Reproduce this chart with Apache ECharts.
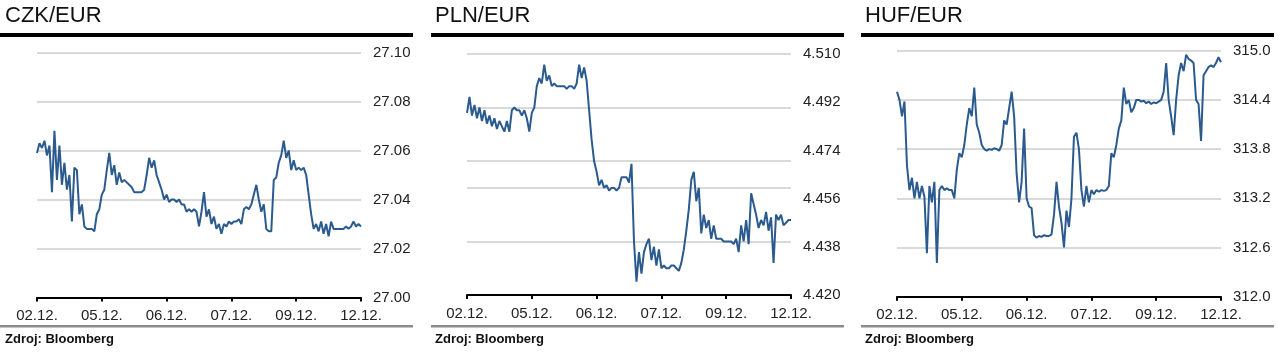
<!DOCTYPE html>
<html><head><meta charset="utf-8">
<script src="https://cdn.jsdelivr.net/npm/echarts@6/dist/echarts.min.js"></script>
<style>html,body{margin:0;padding:0;background:#fff}#c{width:1278px;height:354px}</style>
</head><body><div id="c"></div>
<script>
const dateLabels = ['02.12.', '05.12.', '06.12.', '07.12.', '09.12.', '12.12.'];
const titles = ['CZK/EUR', 'PLN/EUR', 'HUF/EUR'];
const sourceText = 'Zdroj: Bloomberg';

const czkValues = [
27.059,27.063,27.061,27.064,27.058,27.062,27.043,27.068,27.048,27.062,
27.046,27.055,27.044,27.050,27.031,27.053,27.052,27.034,27.038,27.029,
27.028,27.028,27.028,27.027,27.034,27.036,27.042,27.044,27.052,27.059,
27.050,27.054,27.046,27.051,27.047,27.048,27.047,27.046,27.045,27.043,
27.043,27.043,27.043,27.044,27.050,27.057,27.053,27.056,27.050,27.047,
27.044,27.040,27.042,27.039,27.040,27.040,27.039,27.040,27.038,27.038,
27.035,27.036,27.035,27.036,27.035,27.029,27.035,27.043,27.033,27.036,
27.030,27.033,27.028,27.030,27.026,27.030,27.029,27.031,27.030,27.031,
27.031,27.032,27.030,27.036,27.037,27.036,27.038,27.042,27.046,27.040,
27.035,27.038,27.028,27.027,27.027,27.048,27.049,27.055,27.058,27.064,
27.057,27.060,27.052,27.056,27.052,27.053,27.052,27.053,27.050,27.042,
27.034,27.028,27.030,27.027,27.031,27.026,27.030,27.025,27.031,27.028,
27.028,27.028,27.028,27.028,27.029,27.028,27.029,27.031,27.029,27.030,
27.029
];

const plnValues = [
4.488,4.494,4.487,4.491,4.486,4.490,4.485,4.489,4.484,4.487,
4.483,4.486,4.482,4.485,4.483,4.481,4.485,4.481,4.489,4.490,
4.489,4.489,4.487,4.489,4.486,4.481,4.488,4.490,4.498,4.501,
4.499,4.506,4.500,4.502,4.498,4.499,4.498,4.498,4.498,4.498,
4.497,4.498,4.498,4.497,4.499,4.506,4.501,4.505,4.500,4.489,
4.478,4.470,4.466,4.461,4.463,4.460,4.461,4.459,4.460,4.460,
4.459,4.460,4.464,4.464,4.464,4.462,4.469,4.440,4.425,4.436,
4.428,4.436,4.439,4.441,4.433,4.438,4.431,4.437,4.430,4.431,
4.430,4.430,4.431,4.431,4.430,4.429,4.432,4.437,4.444,4.452,
4.463,4.466,4.455,4.460,4.443,4.450,4.445,4.448,4.441,4.446,
4.441,4.441,4.441,4.440,4.440,4.440,4.440,4.439,4.441,4.436,
4.446,4.440,4.448,4.439,4.458,4.454,4.450,4.445,4.448,4.446,
4.451,4.444,4.449,4.432,4.450,4.448,4.450,4.446,4.447,4.448,
4.448
];

const hufValues = [
314.50,314.40,314.20,314.38,313.60,313.30,313.45,313.20,313.40,313.20,
313.35,313.22,312.53,313.35,313.15,313.40,312.41,313.30,313.35,313.30,
313.32,313.30,313.30,313.20,313.55,313.75,313.70,313.85,314.10,314.30,
314.20,314.55,314.10,314.00,313.85,313.80,313.78,313.80,313.79,313.81,
313.80,313.78,313.85,314.15,314.10,314.30,314.50,314.20,313.50,313.15,
313.40,314.05,313.20,313.10,313.08,312.75,312.72,312.74,312.73,312.75,
312.74,312.74,312.76,313.00,313.40,313.10,312.90,312.60,313.05,312.85,
313.20,313.95,314.00,313.80,313.30,313.10,313.35,313.15,313.30,313.25,
313.30,313.28,313.30,313.29,313.30,313.35,313.75,313.70,313.85,314.05,
314.15,314.55,314.35,314.40,314.25,314.30,314.40,314.40,314.38,314.39,
314.36,314.38,314.35,314.37,314.36,314.38,314.40,314.50,314.85,314.40,
314.20,313.97,314.40,314.70,314.85,314.75,314.95,314.90,314.88,314.85,
314.40,314.35,313.90,314.70,314.75,314.80,314.82,314.80,314.85,314.92,
314.86
];

const czkTicks = [27.00, 27.02, 27.04, 27.06, 27.08, 27.10];
const plnTicks = [4.420, 4.438, 4.456, 4.474, 4.492, 4.510];
const hufTicks = [312.0, 312.6, 313.2, 313.8, 314.4, 315.0];
const tickDecimals = [2, 3, 1];

const seriesValues = [czkValues, plnValues, hufValues];
const yTicks = [czkTicks, plnTicks, hufTicks];

const FONT = 'Liberation Sans, Arial, sans-serif';
const panelX = [0, 430, 860];
const gridTop = [52.5, 54, 50.7];
const gridHeight = [245, 241, 246];

const grids = [], xAxes = [], yAxes = [], series = [], graphics = [];
for (let k = 0; k < 3; k++) {
  grids.push({ left: 37 + panelX[k], top: gridTop[k], width: 324, height: gridHeight[k], containLabel: false });
  xAxes.push({
    type: 'value', gridIndex: k, min: 0, max: 5, interval: 1, z: 4,
    axisLine: { show: true, lineStyle: { color: '#000', width: 2 } },
    axisTick: { show: true, length: 4, lineStyle: { color: '#000', width: 2 } },
    axisLabel: { show: true, margin: 11, fontSize: 15, fontFamily: FONT, color: '#222',
      showMinLabel: true, showMaxLabel: true,
      formatter: v => dateLabels[Math.round(v)] },
    splitLine: { show: false }
  });
  const t = yTicks[k], d = tickDecimals[k];
  yAxes.push({
    type: 'value', gridIndex: k, position: 'right', min: t[0], max: t[t.length - 1],
    axisLine: { show: false },
    axisTick: { show: false, customValues: t },
    axisLabel: { show: true, customValues: t, margin: 12, fontSize: 15, fontFamily: FONT, color: '#222',
      formatter: v => Number(v).toFixed(d) },
    splitLine: { show: false }
  });
  const vals = seriesValues[k];
  const n = vals.length;
  series.push({
    type: 'line', xAxisIndex: k, yAxisIndex: k, showSymbol: false, symbol: 'none',
    animation: false, silent: true, z: 3,
    lineStyle: { color: '#2b5a8e', width: 2 },
    data: vals.map((v, i) => [i * 5 / (n - 1), v]),
    markLine: {
      silent: true, symbol: 'none', animation: false, label: { show: false }, z: 1,
      lineStyle: { color: '#d9d9d9', width: 2, type: 'solid' },
      data: t.slice(1).map(v => ({ yAxis: v }))
    }
  });
  const bx = [0, 431, 861][k];
  graphics.push({ type: 'text', left: 5 + panelX[k], top: 5,
    style: { text: titles[k], fontSize: 22, fontFamily: FONT, fill: '#111' } });
  graphics.push({ type: 'rect', shape: { x: bx, y: 33, width: 413, height: 4 }, style: { fill: '#000' } });
  graphics.push({ type: 'rect', shape: { x: bx, y: 325, width: 413, height: 2.5 }, style: { fill: '#8c8c8c' } });
  graphics.push({ type: 'text', left: 5 + panelX[k], top: 333,
    style: { text: sourceText, fontSize: 13, fontWeight: 'bold', fontFamily: FONT, fill: '#111' } });
}

const chart = echarts.init(document.getElementById('c'), null, { renderer: 'canvas' });
chart.setOption({
  animation: false,
  backgroundColor: '#fff',
  grid: grids, xAxis: xAxes, yAxis: yAxes, series: series, graphic: graphics
});
</script>
</body></html>
